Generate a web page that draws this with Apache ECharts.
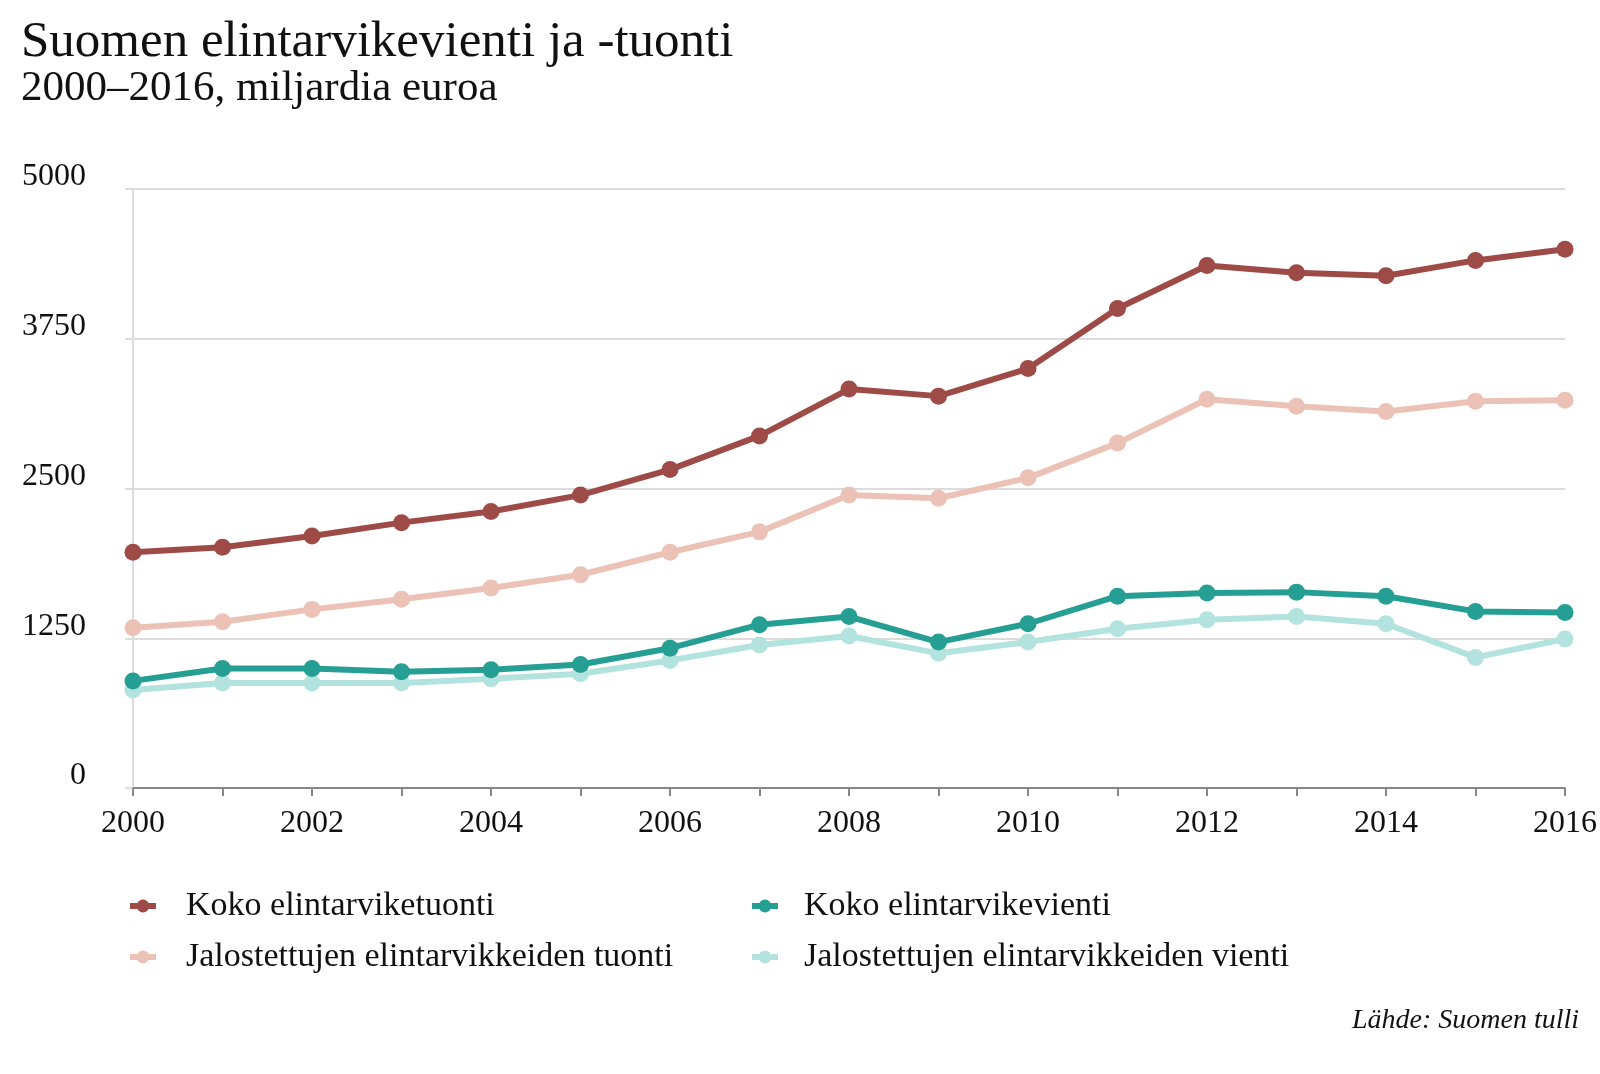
<!DOCTYPE html>
<html>
<head>
<meta charset="utf-8">
<script src="https://cdn.jsdelivr.net/npm/echarts@6/dist/echarts.min.js"></script>
<style>html,body{margin:0;padding:0;background:#fff}#c{width:1600px;height:1074px}</style>
</head>
<body>
<div id="c"></div>
<script>
const years = ['2000','2001','2002','2003','2004','2005','2006','2007','2008','2009','2010','2011','2012','2013','2014','2015','2016'];
const kokoTuonti = [1968,2010,2104,2215,2308,2445,2658,2939,3330,3271,3501,4003,4361,4301,4276,4404,4497];
const jalTuonti = [1337,1388,1491,1576,1670,1780,1968,2138,2445,2419,2589,2879,3245,3186,3143,3228,3237];
const kokoVienti = [894,997,997,971,988,1031,1167,1363,1431,1218,1371,1601,1627,1635,1601,1474,1465];
const jalVienti = [818,877,877,877,911,954,1065,1193,1269,1124,1218,1329,1405,1431,1371,1090,1244];
const yTicks = [0,1250,2500,3750,5000];

const FONT = '"Liberation Serif", "DejaVu Serif", serif';
const names = ['Koko elintarviketuonti','Jalostettujen elintarvikkeiden tuonti','Koko elintarvikevienti','Jalostettujen elintarvikkeiden vienti'];
const colors = ['#9e4b48','#ecc2b7','#259e94','#b3e3de'];

function mkLegend(name, left, top, pad) {
  return {
    data: [name], left: left, top: top, itemWidth: 26, itemHeight: 16,
    lineStyle: { width: 6 },
    textStyle: { fontFamily: FONT, fontSize: 34, color: '#111', padding: [0,0,0,pad] },
    selectedMode: false
  };
}

const chart = echarts.init(document.getElementById('c'));
chart.setOption({
  animation: false,
  title: [
    { text: 'Suomen elintarvikevienti ja -tuonti', left: 16, top: 12,
      textStyle: { fontFamily: FONT, fontSize: 51, fontWeight: 'normal', color: '#111' } },
    { text: '2000–2016, miljardia euroa', left: 16, top: 62,
      textStyle: { fontFamily: FONT, fontSize: 43, fontWeight: 'normal', color: '#111' } },
    { text: 'Lähde: Suomen tulli', right: 16, top: 1002,
      textStyle: { fontFamily: FONT, fontSize: 28, fontWeight: 'normal', fontStyle: 'italic', color: '#111' } }
  ],
  legend: [
    mkLegend(names[0], 122, 884, 25),
    mkLegend(names[1], 122, 935, 25),
    mkLegend(names[2], 744, 884, 21),
    mkLegend(names[3], 744, 935, 21)
  ],
  grid: { left: 133, right: 33, top: 189, bottom: 286, containLabel: false },
  xAxis: {
    type: 'category', data: years, boundaryGap: false,
    axisLine: { lineStyle: { color: '#888', width: 2 } },
    axisTick: { show: true, interval: 0, length: 8, lineStyle: { color: '#888', width: 2 } },
    axisLabel: { interval: 1, margin: 20, fontFamily: FONT, fontSize: 32, color: '#111' },
    splitLine: { show: false }
  },
  yAxis: {
    type: 'value', min: 0, max: 5000, interval: 1250,
    axisLine: { show: true, lineStyle: { color: '#dcdcdc', width: 2 } },
    axisTick: { show: true, length: 8, lineStyle: { color: '#dcdcdc', width: 2 } },
    axisLabel: { margin: 47, fontFamily: FONT, fontSize: 32, color: '#111', verticalAlign: 'bottom',
      lineHeight: 24,
      formatter: v => yTicks.includes(v) ? String(v) : '' },
    splitLine: { lineStyle: { color: '#dcdcdc', width: 2 } }
  },
  series: [
    { name: names[0], data: kokoTuonti, z: 4 },
    { name: names[1], data: jalTuonti, z: 3 },
    { name: names[2], data: kokoVienti, z: 4 },
    { name: names[3], data: jalVienti, z: 2 }
  ].map((s, i) => Object.assign({
    type: 'line', symbol: 'circle', symbolSize: 17, showSymbol: true,
    lineStyle: { width: 6, color: colors[i] },
    itemStyle: { color: colors[i] },
    emphasis: { disabled: true }
  }, s))
});
</script>
</body>
</html>
